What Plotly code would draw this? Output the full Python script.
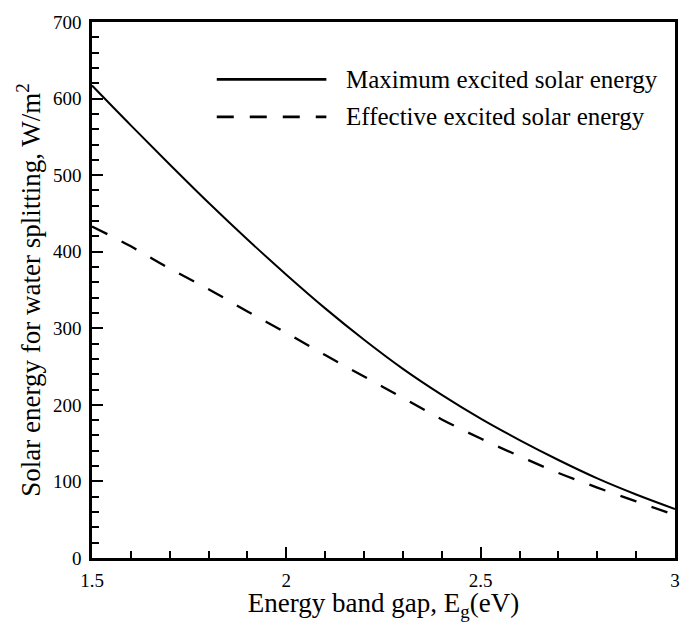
import plotly.graph_objects as go

eg = [1.5, 1.6, 1.7, 1.8, 1.9, 2.0, 2.1, 2.2, 2.3, 2.4, 2.5, 2.6, 2.7, 2.8, 2.9, 3.0]
max_energy = [617, 565, 514, 464, 416, 370, 326, 285, 247, 213, 182, 154, 128, 104, 83, 64]
eff_energy = [433, 407, 378, 351, 322, 294, 265, 237, 209, 181, 156, 133, 111, 92, 74, 56]

series_names = ["Maximum excited solar energy", "Effective excited solar energy"]
x_ticks = [1.5, 2, 2.5, 3]
x_tick_labels = ["1.5", "2", "2.5", "3"]
y_ticks = [0, 100, 200, 300, 400, 500, 600, 700]

FONT = "Liberation Serif"
DASH = "17px,16px"

fig = go.Figure()
fig.add_trace(go.Scatter(x=eg, y=max_energy, mode="lines", name=series_names[0],
                         line=dict(color="black", width=2, shape="spline", smoothing=1),
                         showlegend=False))
fig.add_trace(go.Scatter(x=eg, y=eff_energy, mode="lines", name=series_names[1],
                         line=dict(color="black", width=2.3, dash=DASH, shape="spline", smoothing=1),
                         showlegend=False))

# manual legend (paper coords)
legend_rows = [(0.893, "solid"), (0.823, DASH)]
for (yp, dash), name in zip(legend_rows, series_names):
    fig.add_shape(type="line", xref="paper", yref="paper", x0=0.214, x1=0.402, y0=yp, y1=yp,
                  line=dict(color="black", width=2.6, dash=dash))
    fig.add_annotation(xref="paper", yref="paper", x=0.433, y=yp, text=name, showarrow=False,
                       xanchor="left", yanchor="middle",
                       font=dict(family=FONT, size=25, color="black"))

axis_common = dict(showgrid=False, zeroline=False, showline=True, linecolor="black", linewidth=2.6,
                   mirror=True, ticks="inside", tickcolor="black", tickwidth=2, ticklen=11,
                   ticklabeloverflow="allow",
                   tickfont=dict(family=FONT, size=19, color="black"))

fig.update_xaxes(range=[1.5, 3], tickvals=x_ticks, ticktext=x_tick_labels, ticklabelstandoff=3,
                 minor=dict(dtick=0.1, ticks="inside", ticklen=7, tickwidth=1.5, tickcolor="black"),
                 title=dict(text="Energy band gap, E<sub>g</sub>(eV)",
                            font=dict(family=FONT, size=27, color="black"), standoff=7),
                 **axis_common)
fig.update_yaxes(range=[0, 700], tickvals=y_ticks, ticklabelstandoff=4,
                 minor=dict(dtick=20, ticks="inside", ticklen=7, tickwidth=1.5, tickcolor="black"),
                 title=dict(text="Solar energy for water splitting, W/m<sup>2</sup>",
                            font=dict(family=FONT, size=27, color="black"), standoff=5),
                 **axis_common)

# page body has an 8px margin, so the figure is sized/positioned to compensate
fig.update_layout(width=676, height=614, margin=dict(l=84, r=4, t=7, b=64),
                  plot_bgcolor="white", paper_bgcolor="white",
                  font=dict(family=FONT, color="black"))

fig.write_html("out.html")
